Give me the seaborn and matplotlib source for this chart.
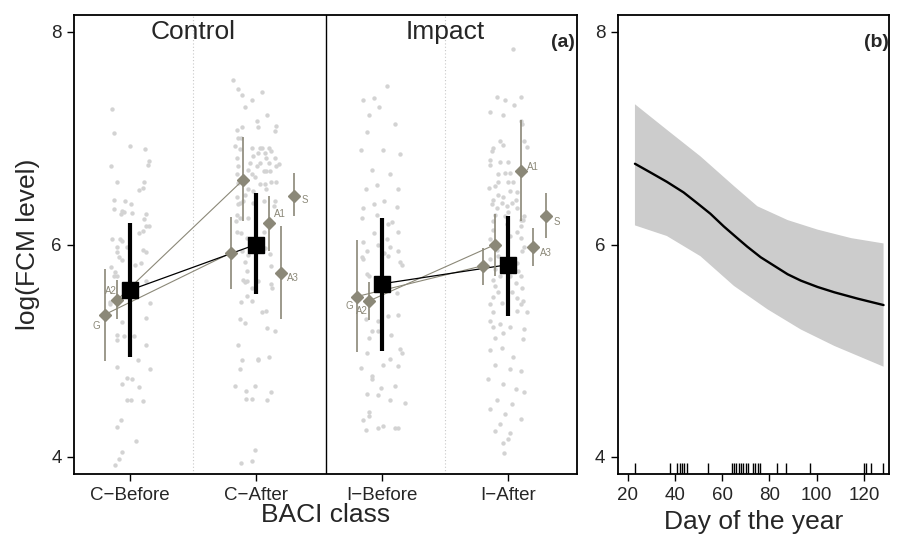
import numpy as np
import pandas as pd
import matplotlib
matplotlib.use("Agg")
import matplotlib.pyplot as plt
import seaborn as sns

# ---- values ----
baci = ["C\u2212Before", "C\u2212After", "I\u2212Before", "I\u2212After"]

# raw samples: (jitter offset from class centre, log(FCM))
cb_pts = [(-0.14, 7.28), (-0.13, 7.05), (0.00, 6.93), (0.12, 6.90), (0.15, 6.79), (0.14, 6.75), (-0.15, 6.74),
          (-0.10, 6.59), (0.11, 6.59), (0.10, 6.53), (0.07, 6.51), (-0.13, 6.42), (-0.04, 6.41), (0.01, 6.38),
          (-0.13, 6.33), (-0.06, 6.32), (-0.05, 6.31), (0.02, 6.30), (-0.07, 6.29), (0.13, 6.29), (0.11, 6.24),
          (0.15, 6.17), (0.13, 6.17), (0.10, 6.13), (0.07, 6.11), (-0.14, 6.05), (-0.08, 6.05), (-0.06, 6.03),
          (-0.10, 5.98), (-0.02, 5.98), (0.10, 5.95), (0.13, 5.93), (-0.10, 5.93), (-0.09, 5.88), (-0.06, 5.85),
          (0.04, 5.81), (0.09, 5.83), (-0.15, 5.79), (-0.12, 5.74), (-0.13, 5.70), (-0.10, 5.70), (0.13, 5.66),
          (-0.16, 5.46), (0.16, 5.45), (-0.16, 5.44), (0.13, 5.31), (-0.06, 5.27), (-0.10, 5.15), (-0.10, 5.10),
          (-0.05, 5.14), (0.03, 5.14), (0.13, 5.05), (0.06, 4.91), (-0.10, 4.85), (0.16, 4.83), (-0.02, 4.74),
          (0.02, 4.73), (-0.06, 4.69), (0.07, 4.66), (-0.02, 4.54), (0.01, 4.54), (0.10, 4.53), (-0.07, 4.35),
          (-0.10, 4.28), (0.05, 4.15), (-0.06, 4.05), (-0.09, 3.98), (-0.12, 3.92)]
ca_pts = [(-0.18, 7.55), (-0.14, 7.46), (0.05, 7.44), (-0.03, 7.36), (-0.11, 7.41), (-0.09, 7.29), (0.09, 7.22),
          (0.01, 7.16), (0.02, 7.11), (0.16, 7.12), (-0.11, 7.11), (-0.15, 7.08), (0.15, 7.07), (-0.14, 7.00),
          (-0.12, 7.00), (-0.17, 6.93), (-0.13, 6.90), (-0.03, 6.91), (0.03, 6.91), (0.05, 6.91), (0.10, 6.91),
          (0.02, 6.86), (0.07, 6.86), (0.12, 6.88), (-0.15, 6.81), (-0.02, 6.83), (0.08, 6.81), (0.15, 6.81),
          (-0.05, 6.77), (0.03, 6.77), (0.01, 6.74), (0.10, 6.77), (0.16, 6.74), (0.18, 6.76), (-0.14, 6.74),
          (-0.06, 6.70), (0.06, 6.69), (0.08, 6.69), (0.11, 6.69), (-0.03, 6.66), (-0.15, 6.66), (-0.01, 6.64),
          (0.12, 6.59), (0.16, 6.59), (0.03, 6.57), (0.07, 6.57), (-0.14, 6.58), (0.08, 6.52), (-0.02, 6.50),
          (-0.06, 6.52), (-0.09, 6.47), (-0.15, 6.45), (-0.13, 6.39), (-0.14, 6.38), (-0.10, 6.41), (-0.02, 6.39),
          (0.06, 6.41), (0.14, 6.36), (0.15, 6.41), (-0.15, 6.28), (-0.06, 6.25), (-0.16, 6.22), (-0.13, 6.25),
          (-0.15, 6.12), (-0.12, 6.11), (0.06, 6.12), (-0.07, 6.06), (0.07, 5.97), (0.11, 5.91), (-0.11, 5.94),
          (-0.06, 5.90), (-0.09, 5.84), (0.12, 5.80), (-0.07, 5.75), (-0.10, 5.67), (-0.09, 5.65), (-0.07, 5.66),
          (0.02, 5.66), (0.12, 5.63), (-0.03, 5.59), (0.13, 5.59), (-0.07, 5.52), (-0.12, 5.46), (-0.03, 5.47),
          (0.05, 5.36), (0.08, 5.37), (-0.13, 5.30), (-0.09, 5.26), (0.09, 5.21), (0.15, 5.19), (-0.14, 5.05),
          (-0.11, 4.91), (0.02, 4.92), (0.02, 4.91), (0.10, 4.94), (-0.13, 4.83), (-0.17, 4.67), (-0.01, 4.67),
          (-0.08, 4.62), (0.12, 4.61), (-0.08, 4.55), (-0.03, 4.55), (0.09, 4.54), (-0.01, 4.07), (-0.03, 3.96),
          (-0.12, 3.94)]
ib_pts = [(0.04, 7.49), (-0.15, 7.36), (-0.06, 7.38), (-0.02, 7.29), (-0.10, 7.22), (0.10, 7.13), (-0.12, 7.06),
          (-0.17, 6.89), (0.01, 6.89), (0.14, 6.85), (-0.08, 6.70), (0.06, 6.66), (-0.13, 6.52), (0.13, 6.52),
          (-0.04, 6.56), (-0.15, 6.34), (-0.06, 6.38), (0.02, 6.41), (0.12, 6.35), (-0.16, 6.25), (-0.04, 6.28),
          (0.05, 6.19), (0.08, 6.21), (-0.06, 6.11), (0.13, 6.12), (-0.15, 6.02), (0.04, 6.05), (-0.03, 6.00),
          (0.06, 5.98), (-0.12, 5.94), (0.13, 5.94), (0.02, 5.92), (-0.16, 5.88), (0.05, 5.89), (0.14, 5.84),
          (-0.15, 5.86), (0.16, 5.81), (-0.12, 5.72), (-0.10, 5.70), (0.12, 5.54), (0.05, 5.33), (0.13, 5.34),
          (-0.03, 5.28), (-0.13, 5.30), (-0.08, 5.19), (-0.03, 5.19), (-0.10, 5.12), (0.07, 5.15), (0.14, 5.02),
          (0.16, 4.98), (-0.12, 4.98), (0.01, 4.87), (0.06, 4.92), (0.13, 4.86), (-0.17, 4.84), (-0.08, 4.76),
          (-0.08, 4.73), (-0.01, 4.65), (0.10, 4.67), (-0.12, 4.59), (-0.03, 4.58), (0.06, 4.54), (0.18, 4.51),
          (-0.10, 4.42), (-0.10, 4.39), (-0.15, 4.35), (-0.03, 4.27), (0.01, 4.29), (0.10, 4.27), (0.13, 4.27),
          (-0.13, 4.25)]
ia_pts = [(0.04, 7.84), (-0.09, 7.39), (-0.02, 7.36), (0.05, 7.31), (-0.14, 7.25), (-0.04, 7.22), (0.10, 7.39),
          (0.10, 7.16), (0.11, 7.13), (-0.06, 6.97), (-0.12, 6.91), (-0.13, 6.88), (-0.04, 6.94), (0.13, 6.97),
          (0.15, 6.92), (-0.14, 6.80), (-0.06, 6.78), (0.00, 6.78), (-0.14, 6.75), (0.02, 6.67), (-0.08, 6.66),
          (-0.02, 6.67), (-0.08, 6.59), (0.00, 6.59), (0.04, 6.59), (-0.10, 6.55), (-0.15, 6.53), (0.02, 6.50),
          (0.07, 6.49), (-0.08, 6.47), (-0.04, 6.45), (-0.12, 6.42), (0.06, 6.42), (-0.13, 6.38), (-0.05, 6.39),
          (-0.01, 6.36), (0.03, 6.39), (-0.09, 6.34), (0.07, 6.34), (0.00, 6.31), (-0.10, 6.28), (-0.02, 6.27),
          (0.13, 6.27), (0.10, 6.23), (-0.12, 6.22), (-0.01, 6.19), (0.12, 6.23), (0.10, 6.17), (-0.12, 6.14),
          (0.07, 6.12), (0.02, 6.08), (0.10, 6.06), (-0.14, 6.05), (0.13, 5.98), (-0.09, 5.95), (0.11, 5.94),
          (-0.08, 5.89), (-0.14, 5.86), (0.07, 5.83), (-0.10, 5.77), (0.08, 5.75), (-0.06, 5.70), (0.02, 5.70),
          (0.10, 5.70), (-0.12, 5.67), (0.06, 5.64), (-0.10, 5.61), (0.11, 5.59), (-0.08, 5.55), (0.03, 5.55),
          (-0.12, 5.51), (0.07, 5.50), (0.12, 5.47), (-0.14, 5.44), (-0.05, 5.45), (0.10, 5.44), (0.15, 5.36),
          (-0.12, 5.36), (0.07, 5.37), (-0.14, 5.28), (-0.06, 5.25), (0.02, 5.22), (0.13, 5.20), (-0.12, 5.22),
          (-0.04, 5.17), (-0.10, 5.12), (0.12, 5.11), (-0.14, 5.01), (-0.05, 5.03), (0.04, 4.94), (-0.10, 4.87),
          (0.02, 4.83), (0.10, 4.81), (-0.16, 4.73), (-0.04, 4.69), (0.06, 4.64), (0.13, 4.61), (-0.09, 4.54),
          (0.03, 4.50), (-0.14, 4.45), (-0.02, 4.40), (0.10, 4.36), (-0.06, 4.31), (-0.10, 4.24), (0.02, 4.23),
          (0.00, 4.17), (-0.04, 4.13), (-0.03, 4.04)]

# overall BACI estimate with interval
fit_mid = [5.57, 6.00, 5.63, 5.81]
fit_lo = [4.94, 5.53, 5.00, 5.33]
fit_hi = [6.20, 6.48, 6.25, 6.27]

# per-site estimates
site_cls = [0, 0, 1, 1, 1, 1, 1, 2, 2, 3, 3, 3, 3, 3]
site_name = ["G", "A2", "G", "A2", "A1", "A3", "S", "G", "A2", "G", "A2", "A1", "A3", "S"]
site_mid = [5.34, 5.48, 5.92, 6.61, 6.20, 5.73, 6.46, 5.51, 5.47, 5.80, 6.00, 6.69, 5.98, 6.27]
site_lo = [4.90, 5.30, 5.58, 6.22, 5.94, 5.30, 6.27, 4.99, 5.29, 5.62, 5.70, 6.22, 5.80, 6.06]
site_hi = [5.77, 5.67, 6.26, 7.01, 6.46, 6.17, 6.67, 6.04, 5.65, 5.97, 6.29, 7.17, 6.16, 6.48]

# panel (b): smooth day-of-year effect
day_fit = [23.1, 29.5, 36.6, 43.7, 49.4, 55.0, 60.7, 66.4, 70.6, 76.3, 82.0, 87.7, 93.3, 100.4, 107.5, 117.4, 128.3]
val_fit = [6.76, 6.68, 6.59, 6.49, 6.39, 6.29, 6.17, 6.06, 5.98, 5.88, 5.80, 5.72, 5.66, 5.60, 5.55, 5.49, 5.43]
day_up = [23.1, 36.6, 50.8, 65.0, 74.9, 87.7, 100.4, 114.6, 128.3]
val_up = [7.32, 7.08, 6.83, 6.55, 6.36, 6.23, 6.14, 6.06, 6.01]
day_lo = [23.1, 36.6, 50.8, 65.0, 79.2, 93.3, 107.5, 128.3]
val_lo = [6.18, 6.08, 5.89, 5.61, 5.39, 5.20, 5.045, 4.85]
rug_days = [23, 38, 41, 42, 43, 44, 45, 54, 64, 65, 66, 67, 68, 69, 70, 71, 73, 74, 75, 76,
            83, 87, 97, 120, 121, 123, 128]

# ---- styling ----
site_dx = {"G": -0.2, "A2": -0.1, "A1": 0.1, "A3": 0.2, "S": 0.3}
label_off = {(0, "G"): (-6, -8), (0, "A2"): (-4.5, 6.5), (1, "A1"): (8, 7), (1, "A3"): (8.5, -3.5),
             (1, "S"): (8, -3.5), (2, "G"): (-5, -6.5), (2, "A2"): (-5, -7), (3, "A1"): (9, 3),
             (3, "A3"): (9, -4.3), (3, "S"): (8, -4.3)}
SITE_COL = "#8b8878"
DOT_COL = "#d3d3d3"

sns.set_style("ticks")
plt.rcParams["font.family"] = ["Liberation Sans", "DejaVu Sans"]

fig = plt.figure(figsize=(8.98, 5.38), dpi=100)
W, H = 898, 538
top, bot = 15, 474
ax = fig.add_axes([74 / W, 1 - bot / H, (577 - 74) / W, (bot - top) / H])
bx = fig.add_axes([617.7 / W, 1 - bot / H, (889 - 617.7) / W, (bot - top) / H])

# raw points
rows = []
for k, pts in enumerate([cb_pts, ca_pts, ib_pts, ia_pts]):
    for dx, v in pts:
        rows.append({"x": k + 1 + dx, "y": v})
raw = pd.DataFrame(rows)
sns.scatterplot(data=raw, x="x", y="y", color=DOT_COL, s=10, linewidth=0, ax=ax, legend=False, zorder=1)

ax.axvline(1.5, color="#c8c8c8", ls=(0, (1, 2)), lw=0.8, zorder=0)
ax.axvline(3.5, color="#c8c8c8", ls=(0, (1, 2)), lw=0.8, zorder=0)
ax.axvline(2.553, color="black", lw=1.0, zorder=0)

sites = pd.DataFrame({"cls": site_cls, "site": site_name, "mid": site_mid, "lo": site_lo, "hi": site_hi})
sites["x"] = sites["cls"] + 1 + sites["site"].map(site_dx)

# before -> after connections
for block in [(0, 1), (2, 3)]:
    for s in ["G", "A2"]:
        pair = sites[(sites["site"] == s) & sites["cls"].isin(block)].sort_values("cls")
        ax.plot(pair["x"], pair["mid"], color=SITE_COL, lw=0.8, zorder=2)
    ax.plot([block[0] + 1, block[1] + 1], [fit_mid[block[0]], fit_mid[block[1]]], color="black", lw=0.9, zorder=2)

ax.vlines(sites["x"], sites["lo"], sites["hi"], color=SITE_COL, lw=1.2, zorder=3)
ax.plot(sites["x"], sites["mid"], "D", ms=6, color=SITE_COL, mec=SITE_COL, ls="none", zorder=4)
for _, r in sites.iterrows():
    key = (r["cls"], r["site"])
    if key in label_off:
        ax.annotate(r["site"], (r["x"], r["mid"]), xytext=label_off[key], textcoords="offset points",
                    ha="center", va="center", fontsize=7, color=SITE_COL)

xs = np.arange(1, 5)
ax.vlines(xs, fit_lo, fit_hi, color="black", lw=3, zorder=5)
ax.plot(xs, fit_mid, "s", ms=11.5, color="black", ls="none", zorder=6)

ax.set_xlim(0.556, 4.548)
ax.set_ylim(3.84, 8.16)
ax.set_xticks(xs)
ax.set_xticklabels(baci)
ax.set_yticks([4, 6, 8])
ax.set_xlabel("BACI class", fontsize=19, labelpad=0)
ax.set_ylabel("log(FCM level)", fontsize=19, labelpad=8)
ax.text(1.5, 8.0, "Control", ha="center", va="center", fontsize=19)
ax.text(3.5, 8.0, "Impact", ha="center", va="center", fontsize=19)
ax.text(0.972, 0.94, "(a)", transform=ax.transAxes, ha="center", va="center", fontsize=14, fontweight="bold")

# panel (b)
bx.fill(np.r_[day_up, day_lo[::-1]], np.r_[val_up, val_lo[::-1]], color="#cccccc", lw=0, zorder=1)
sns.lineplot(x=day_fit, y=val_fit, color="black", lw=1.7, ax=bx, zorder=2)
sns.rugplot(x=rug_days, ax=bx, height=0.024, color="black", lw=1.4)
bx.set_xlim(15.8, 130.6)
bx.set_ylim(3.84, 8.16)
bx.set_xticks([20, 40, 60, 80, 100, 120])
bx.set_yticks([4, 6, 8])
bx.set_xlabel("Day of the year", fontsize=19, labelpad=5)
bx.text(0.952, 0.94, "(b)", transform=bx.transAxes, ha="center", va="center", fontsize=14, fontweight="bold")

for a in (ax, bx):
    for sp in a.spines.values():
        sp.set_visible(True)
        sp.set_linewidth(1.3)
        sp.set_color("black")
    a.tick_params(axis="both", direction="out", length=5, width=1, labelsize=13.5, color="black", pad=4)
    a.set_facecolor("white")

fig.savefig("out.png", dpi=100, facecolor="white")
